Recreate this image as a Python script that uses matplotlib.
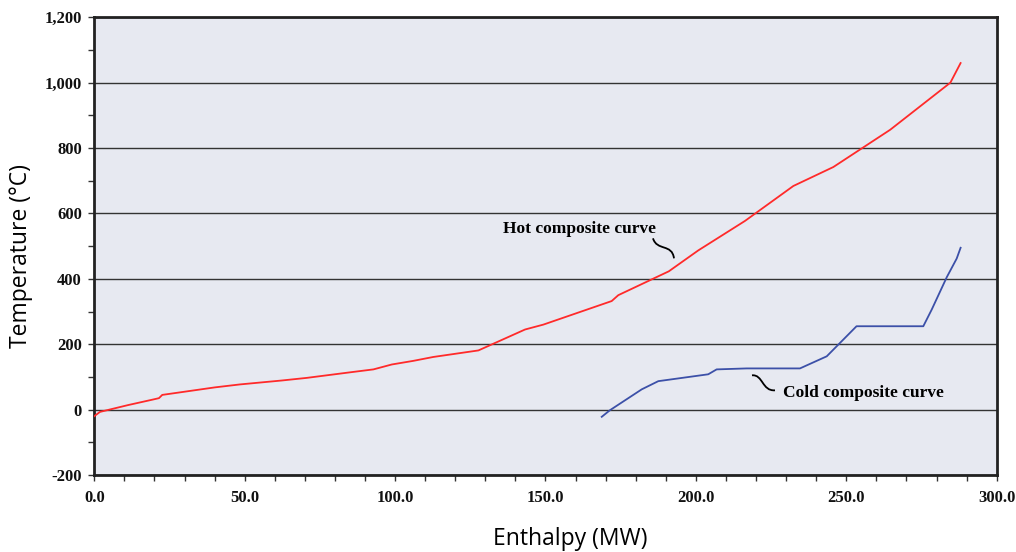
import numpy as np
import matplotlib.pyplot as plt
from matplotlib.path import Path
from matplotlib.patches import PathPatch
from matplotlib.ticker import MultipleLocator, FuncFormatter

# hot composite curve (enthalpy MW, temperature C)
hot_h = [0.0, 1.9, 11.3, 19.6, 21.5, 22.6, 40.1, 48.4, 62.3, 70.6, 85.0, 92.8,
         98.9, 106.0, 112.7, 127.7, 143.2, 149.3, 172.0, 174.2, 191.0, 200.8,
         216.3, 232.4, 245.7, 264.6, 284.6, 288.0]
hot_t = [-20, -7, 14, 31, 35, 45, 68, 77, 89, 97, 114, 123,
         138, 149, 161, 181, 245, 260, 332, 350, 423, 487,
         577, 684, 742, 856, 1000, 1060]

# cold composite curve
cold_h = [168.7, 171.4, 182.0, 187.5, 204.1, 206.9, 216.9, 234.6, 243.5,
          253.4, 275.6, 278.4, 283.4, 286.7, 288.0]
cold_t = [-22, -2, 62, 87, 108, 123, 126, 126, 163,
          255, 255, 306, 405, 462, 495]

plt.rcParams['font.family'] = ['Liberation Serif', 'DejaVu Serif']
plt.rcParams['font.weight'] = 'bold'


def px(x, y):
    """pixel position in the picture -> data coords"""
    return ((x - 94.3) / 3.008, (409.3 - y) / 0.327)


def squiggle(ax, pts):
    verts = [px(*p) for p in pts]
    path = Path(verts, [Path.MOVETO, Path.CURVE4, Path.CURVE4, Path.CURVE4])
    ax.add_patch(PathPatch(path, fc="none", ec="black", lw=1.3))


def main():
    fig = plt.figure(figsize=(10.16, 5.52), dpi=100)
    ax = fig.add_axes([0.0928, 0.1395, 0.8882, 0.8292])
    ax.set_facecolor("#e7e9f1")

    ax.plot(hot_h, hot_t, color="#ff2a2a", lw=1.3, zorder=3)
    ax.plot(cold_h, cold_t, color="#3c50a8", lw=1.3, zorder=3)

    ax.set_xlim(0, 300)
    ax.set_ylim(-200, 1200)
    ax.xaxis.set_major_locator(MultipleLocator(50))
    ax.xaxis.set_minor_locator(MultipleLocator(10))
    ax.yaxis.set_major_locator(MultipleLocator(200))
    ax.yaxis.set_minor_locator(MultipleLocator(100))
    ax.xaxis.set_major_formatter(FuncFormatter(lambda v, p: "%.1f" % v))
    ax.yaxis.set_major_formatter(FuncFormatter(lambda v, p: "{:,.0f}".format(v)))

    ax.grid(axis="y", which="major", color="#333333", lw=1.0, zorder=1)
    ax.set_axisbelow(True)

    for s in ax.spines.values():
        s.set_linewidth(2.0)
        s.set_color("#222222")

    ax.tick_params(which="both", direction="out", length=4, width=1,
                   color="#333333", top=False, right=False)
    ax.tick_params(axis="both", which="major", labelsize=12, labelcolor="#111111")
    ax.tick_params(axis="x", which="major", pad=7)
    ax.tick_params(axis="y", which="major", pad=5)

    # axis titles placed by figure pixel position
    fig.text(570 / 1016, 1 - 539 / 552, "Enthalpy (MW)", ha="center", va="center",
             fontfamily="Open Sans", fontweight="normal", fontsize=16.5)
    fig.text(21 / 1016, 1 - 256 / 552, "Temperature (°C)", ha="center", va="center",
             rotation=90, fontfamily="Open Sans", fontweight="normal", fontsize=16.5)

    tx, ty = px(580, 229)
    ax.text(tx, ty, "Hot composite curve", ha="center", va="center",
            fontweight="bold", fontsize=12.5)
    tx, ty = px(863, 393)
    ax.text(tx, ty, "Cold composite curve", ha="center", va="center",
            fontweight="bold", fontsize=12.5)

    squiggle(ax, [(653, 238), (657, 251), (672, 243), (674, 258)])
    squiggle(ax, [(752, 375), (763, 374), (762, 391), (775, 390)])

    fig.savefig("out.png", dpi=100)


main()
